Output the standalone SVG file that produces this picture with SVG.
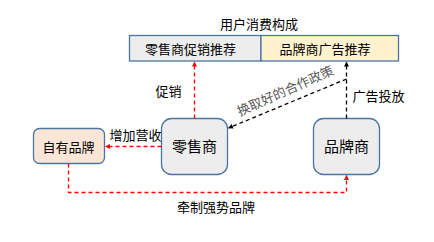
<svg xmlns="http://www.w3.org/2000/svg" width="434" height="242" viewBox="0 0 434 242">
<style>
text{font-family:"Noto Sans CJK SC","Liberation Sans",sans-serif;fill:#000;text-anchor:middle;dominant-baseline:central}
.box{stroke:#4A76A6;stroke-width:1.3}
.red{stroke:#FF0000;stroke-width:1.3;stroke-dasharray:4 3;fill:none}
.blk{stroke:#000;stroke-width:1.3;stroke-dasharray:4 3;fill:none}
</style>
<defs>
<marker id="ar" viewBox="0 0 10 10" refX="9" refY="5" markerWidth="5" markerHeight="5" orient="auto" markerUnits="userSpaceOnUse"><path d="M0,0L10,5L0,10z" fill="#FF0000"/></marker>
<marker id="ab" viewBox="0 0 10 10" refX="9" refY="5" markerWidth="5" markerHeight="5" orient="auto" markerUnits="userSpaceOnUse"><path d="M0,0L10,5L0,10z" fill="#000"/></marker>
</defs>
<rect width="434" height="242" fill="#fff"/>
<text x="259" y="23" font-size="13">用户消费构成</text>
<g id="bar-retail">
<rect class="box" x="129.5" y="35.5" width="131.5" height="25.5" fill="#EDEDED"/>
<text x="190.5" y="48" font-size="13">零售商促销推荐</text>
</g>
<g id="bar-brand">
<rect class="box" x="261" y="35.5" width="137.5" height="25.5" fill="#FFF2CC"/>
<text x="325" y="48" font-size="13">品牌商广告推荐</text>
</g>
<g id="own-brand">
<rect class="box" x="33.5" y="128.5" width="71" height="35" rx="6" fill="#FBE5D6"/>
<text x="68.5" y="146" font-size="13">自有品牌</text>
</g>
<g id="retailer">
<rect class="box" x="161.5" y="118.5" width="66" height="56" rx="10" fill="#EDEDED"/>
<text x="194.5" y="145" font-size="15">零售商</text>
</g>
<g id="brand">
<rect class="box" x="313.5" y="118.5" width="66" height="56" rx="10" fill="#EDEDED"/>
<text x="346.5" y="145" font-size="15">品牌商</text>
</g>
<g id="connectors">
<path class="red" d="M194.5,118.5V62" marker-end="url(#ar)"/>
<path class="blk" d="M346.5,118.5V62" marker-end="url(#ab)"/>
<path class="blk" d="M346.5,79L228.5,128" marker-end="url(#ab)"/>
<path class="red" d="M161.5,146.5H105.5" marker-end="url(#ar)"/>
<path class="red" d="M68.5,163.5V192.5H346.5V175.5" marker-end="url(#ar)"/>
</g>
<text x="168.5" y="90.5" font-size="13">促销</text>
<text x="378.5" y="95" font-size="13">广告投放</text>
<text x="135.5" y="134" font-size="13">增加营收</text>
<text x="216" y="206" font-size="13">牵制强势品牌</text>
<text x="285" y="90" font-size="13" transform="rotate(-24 285 90)" style="fill:#595959">换取好的合作政策</text>
</svg>
